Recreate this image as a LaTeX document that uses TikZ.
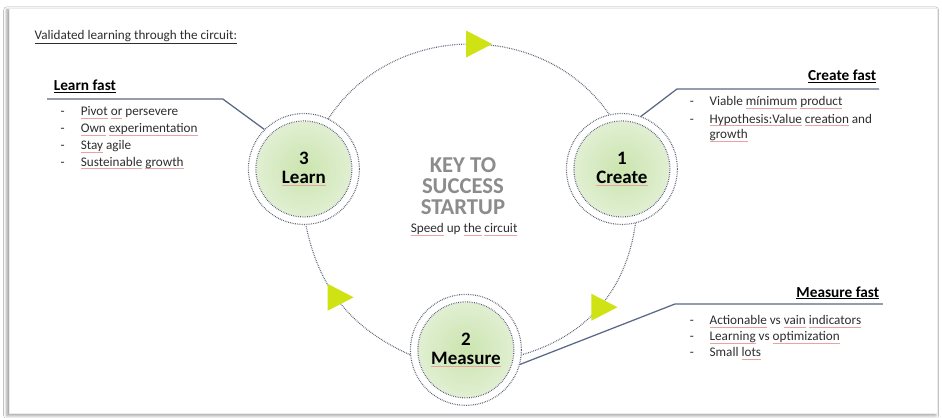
\documentclass[tikz,border=0pt]{standalone}
\usepackage{fontspec}
\setmainfont{Carlito}
\usepackage{xcolor}
\usetikzlibrary{shapes.geometric,shadows.blur}

\definecolor{ringgray}{HTML}{5A6272}
\definecolor{leadblue}{HTML}{5B6986}
\definecolor{arrowgreen}{HTML}{CFE314}
\definecolor{greenin}{HTML}{CBE4AE}
\definecolor{greenout}{HTML}{E4F1D8}
\definecolor{keygray}{HTML}{8C8C8C}
\definecolor{txtgray}{HTML}{2E2E2E}
\definecolor{spellred}{HTML}{E9A3A3}

% red wavy mark of the spell checker under a word
\newcommand\spell[1]{\leavevmode\setbox0\hbox{#1}\rlap{\textcolor{spellred}{\rule[-2.6pt]{\wd0}{0.6pt}}}\box0\relax}

\begin{document}
\begin{tikzpicture}[
    scale=1.0,
    font=\fontsize{12.5}{14}\selectfont,
    ring/.style={circle, draw=ringgray, dash pattern=on 0.7pt off 1pt, line width=1.1pt,
        minimum size=3.7cm, inner sep=0pt, align=center, text=black,
        font=\fontsize{18}{18}\selectfont\bfseries,
        path picture={
            \shade[inner color=greenin, outer color=greenout] (path picture bounding box.center) circle (1.58);
            \draw[ringgray, dash pattern=on 0.7pt off 1pt, line width=1.1pt] (path picture bounding box.center) circle (1.6);
        }},
    circuit/.style={draw=ringgray, dash pattern=on 0.7pt off 1pt, line width=1.1pt},
    tri/.style={isosceles triangle, isosceles triangle stretches, fill=arrowgreen,
        inner sep=0pt, minimum width=0.9cm, minimum height=0.87cm},
    leader/.style={draw=leadblue, line width=1.2pt},
    heading/.style={font=\fontsize{14.5}{16}\selectfont\bfseries, text=black},
    item/.style={anchor=base west, text=txtgray},
]

% Page and slide frame
\useasboundingbox (0,0) rectangle (31.4,13.933);
\fill[white] (0,0) rectangle (31.4,13.933);
\path[fill=white, draw=gray!15, blur shadow={shadow xshift=-2pt, shadow yshift=-2pt, shadow blur radius=3pt}]
    (0.3,0.15) rectangle (31.25,13.67);

% Intro line
\node[item] (intro) at (1.03, 12.63) {\underline{Validated learning through the circuit:}};

% Stages
\node[ring] (learn) at (10.13, 8.3) {3\\\spell{Learn}};
\node[ring] (create) at (20.73, 8.3) {1\\\spell{Create}};
\node[ring] (measure) at (15.53, 2.27) {2\\\spell{Measure}};

% Dotted circuit with the markers
\draw[circuit] (learn.64) to[bend left=56, looseness=1.06] node[tri, pos=0.52] (arrtop) {} (create.103);
\draw[circuit] (create.-76) to[bend left=33] node[tri, pos=0.5] (arrright) {} (measure.-5);
\draw[circuit] (measure.185) to[bend left=27] node[tri, pos=0.55] (arrleft) {} (learn.-88);

% Centre
\node[font=\fontsize{21.5}{20}\selectfont\bfseries, text=keygray, align=center] (key) at (15.43, 7.72) {KEY TO\\SUCCESS\\STARTUP};
\node[anchor=base, text=txtgray] (speed) at (15.47, 6.17) {\spell{Speed} up \spell{the} \spell{circuit}};

% Learn fast
\coordinate (lknee) at (7.43, 10.63);
\coordinate (lend) at (1.57, 10.63);
\draw[leader] (learn.135) -- (lknee) -- (lend);
\node[heading, anchor=base west] (learnhd) at (1.67, 10.91) {\underline{Learn fast}};
\foreach \txt [count=\i] in {\spell{Pivot} \spell{or} persevere, \spell{Own} \spell{experimentation},
        \spell{Stay} agile, \spell{Susteinable} \spell{growth}} {
    \node[item] (lh\i) at (1.9, 10.63-0.56*\i) {-};
    \node[item] (lt\i) at (2.57, 10.63-0.56*\i) {\txt};
}

% Create fast
\coordinate (cknee) at (22.57, 10.97);
\coordinate (cend) at (29.3, 10.97);
\draw[leader] (create.70) -- (cknee) -- (cend);
\node[heading, anchor=base east] (createhd) at (29.33, 11.24) {\underline{Create fast}};
\node[item] (ch1) at (22.87, 10.4) {-};
\node[item] (ct1) at (23.53, 10.4) {Viable \spell{mínimum} \spell{product}};
\node[item] (ch2) at (22.87, 9.83) {-};
\node[item] (ct2) at (23.53, 9.83) {\spell{Hypothesis:Value} \spell{creation} and};
\node[item] (ct3) at (23.53, 9.3) {\spell{growth}};

% Measure fast
\coordinate (mknee) at (22.5, 3.8);
\coordinate (mend) at (29.43, 3.8);
\draw[leader] (measure.-15) -- (mknee) -- (mend);
\node[heading, anchor=base east] (measurehd) at (29.43, 4.03) {\underline{Measure fast}};
\foreach \txt [count=\i] in {\spell{Actionable} vs \spell{vain} \spell{indicators},
        \spell{Learning} vs \spell{optimization}, Small \spell{lots}} {
    \node[item] (mh\i) at (22.87, 3.63-0.53*\i) {-};
    \node[item] (mt\i) at (23.53, 3.63-0.53*\i) {\txt};
}

\end{tikzpicture}
\end{document}
